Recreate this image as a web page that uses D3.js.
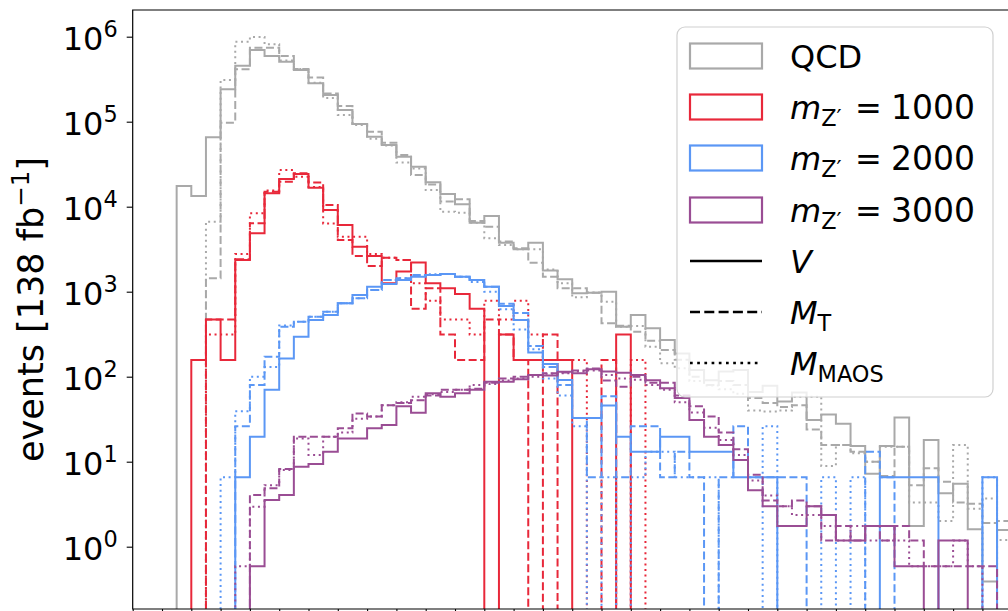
<!DOCTYPE html>
<html>
<head>
<meta charset="utf-8">
<script src="https://cdn.jsdelivr.net/npm/d3@7"></script>
<style>
  body { margin: 0; background: #fff; }
  text { font-family: "DejaVu Sans", sans-serif; }
</style>
</head>
<body>
<div id="canvas"></div>
<script>
// bins: equal-width bins, counts per bin (events / 138 fb^-1)
var nBins = 62;

var qcdV = [0,0,0,17500,13400,65500,240000,456000,698000,593000,
  508000,406000,283000,206000,137000,94000,66700,53200,38700,29600,
  19400,14100,10700,6490,7780,3770,3150,3770,1770,1400,
  957,973,1000,387,532,371,270,188,120,91,
  115,120,66,78,51,65,31,36,28,15.3,
  7.2,15.3,33,1.75,18,4.25,5.5,1.6,0.39,1.57];
var qcdMT = [0,0,0,0,0,1440,97300,413000,741000,741000,
  593000,417000,330000,214000,153000,94000,76200,56600,40600,23600,
  18200,11500,12200,6800,5820,3890,3240,2190,1500,1100,
  1100,973,425,398,339,265,206,158,100,80,
  89,80,56,49,44,46,24,15.7,15.7,13.1,
  10,6.8,15,5.3,8.4,5.8,3.3,3.2,1.9,2];
var qcdMAOS = [0,0,0,0,0,6670,309000,873000,995000,813000,
  525000,417000,288000,190000,120000,91200,63100,52500,33000,28200,
  15700,8730,8500,6460,4250,3550,3150,3150,1820,1256,
  859,977,762,387,394,225,144,126,89,79,
  71,63,40,39,40,58,58,8.9,15.7,12.6,
  10,15,15,3.3,3.3,2.0,15.7,2.8,3.7,1.2];

var z1000V = [0,0,0,0,157,471,157,2360,4860,14400,
  21200,24300,16700,9140,6090,3380,2630,1256,1727,2198,
  1256,1099,942,628,0,314,157,157,157,157,
  0,0,0,314,0,0,0,0,0,0,
  0,0,0,0,0,0,0,0,0,0,
  0,0,0,0,0,0,0,0,0,0];
var z1000MT = [0,0,0,0,0,471,471,2400,6370,15000,
  19700,24700,19200,10500,4060,2630,2000,2512,2355,628,
  1099,314,157,157,471,314,157,0,314,0,
  0,0,157,0,0,0,0,0,0,0,
  0,0,0,0,0,0,0,0,0,0,
  0,0,0,0,0,0,0,0,0,0];
var z1000MAOS = [0,0,0,0,0,314,314,2770,8360,15500,
  27000,22500,17000,6350,4440,4440,2770,2512,2355,1256,
  785,471,471,314,785,471,785,314,157,157,
  157,0,0,0,157,0,0,0,0,0,
  0,0,0,0,0,0,0,0,0,0,
  0,0,0,0,0,0,0,0,0,0];

var z2000V = [0,0,0,0,0,0,0,6.55,19.7,70,
  164,296,464,532,731,915,1146,1233,1373,1500,
  1571,1616,1500,1373,1146,679,464,192,141,91.5,
  32.7,32.7,45.8,19.6,13.1,13.1,19.6,19.6,13.1,13.1,
  13.1,6.55,6.55,6.55,0,0,0,0,0,0,
  0,6.55,6.55,6.55,6.55,0,0,0,6.55,0];
var z2000MT = [0,0,0,0,0,0,0,26.2,80,172,
  387,444,508,582,731,836,1047,1373,1438,1571,
  1571,1616,1500,1373,1146,720,560,230,130,80,
  32.7,6.55,58.9,6.55,26.2,26.2,6.55,13.1,6.55,0,
  6.55,26.2,6.55,6.55,6.55,6.55,0,0,0,0,
  13.1,6.55,0,0,0,0,0,0,0,0];
var z2000MAOS = [0,0,0,0,0,0,6.55,39.3,100,130,
  400,444,508,582,731,836,1047,1373,1438,1571,
  1600,1616,1500,1300,1000,620,360,210,95,60,
  26.2,0,6.55,0,6.55,13.1,13.1,6.55,6.55,6.55,
  0,0,0,26.2,0,0,0,6.55,0,6.55,
  0,0,0,0,0,0,0,0,6.55,0];

var z3000V = [0,0,0,0,0,0,0,0,0.59,3.54,
  4.06,8.7,9.4,13.1,18.8,18.8,24.7,27,45,37.7,
  63.8,58,64,70,87,87,93,105,103,114,
  110,122,115,111,105,91,73,56,31,19.7,
  15.7,10.5,4.6,3,1.75,1.75,3,2.36,1.18,1.18,
  1.75,1.75,0.59,0.59,0,1.18,1.18,0,0,0];
var z3000MT = [0,0,0,0,0,0,0,0,4.06,4.87,
  8.2,19.7,19.7,19.7,24.7,37,34,46,49,53,
  60,70,70,72,85,95,100,105,110,112,
  118,125,90,76,100,85,85,60,45,34,
  22,14,7,3.5,3,3.5,3,1.18,1.75,1.18,
  1.75,1.18,1.75,1.18,0.59,0.59,0.59,0.59,0.59,0];
var z3000MAOS = [0,0,0,0,0,0,0,0.59,2.96,5.3,
  8,18.8,12,19.7,22,32,34,46,50,58,
  62,66,70,80,82,90,95,100,108,110,
  115,118,105,95,92,80,70,50,38,25,
  18,12,6,4,3,2.36,2.36,1.75,1.18,1.75,
  1.18,1.18,1.18,0.59,0.59,0.59,1.18,0.59,0,0];

var samples = ['QCD', 'm1000', 'm2000', 'm3000'];
var colors = { QCD: '#a9a9a9', m1000: '#e8283a', m2000: '#5b97f5', m3000: '#9a4d94' };
var variables = ['V', 'MT', 'MAOS'];
var dashes = { V: null, MT: '8,3.5', MAOS: '2,3.6' };
var yTicks = [1, 10, 100, 1e3, 1e4, 1e5, 1e6];
var yMin = Math.pow(10, -0.733), yMax = Math.pow(10, 6.314);

var hists = [
  { s: 'QCD', v: 'V', d: qcdV }, { s: 'QCD', v: 'MT', d: qcdMT }, { s: 'QCD', v: 'MAOS', d: qcdMAOS },
  { s: 'm1000', v: 'V', d: z1000V }, { s: 'm1000', v: 'MT', d: z1000MT }, { s: 'm1000', v: 'MAOS', d: z1000MAOS },
  { s: 'm2000', v: 'V', d: z2000V }, { s: 'm2000', v: 'MT', d: z2000MT }, { s: 'm2000', v: 'MAOS', d: z2000MAOS },
  { s: 'm3000', v: 'V', d: z3000V }, { s: 'm3000', v: 'MT', d: z3000MT }, { s: 'm3000', v: 'MAOS', d: z3000MAOS }
];

// margin convention
var m = { t: 10, l: 132.7 },
    w = nBins * 14.65,
    h = 599;

var svg = d3.select('#canvas').append('svg')
    .attr('width', 1008)
    .attr('height', 611);

var plot = svg.append('g')
    .attr('transform', 'translate(' + m.l + ',' + m.t + ')');

var scaleX = d3.scaleLinear().domain([0, nBins]).range([0, w]);
var scaleY = d3.scaleLog().domain([yMin, yMax]).range([h, 0]);

plot.append('clipPath').attr('id', 'clip')
  .append('rect').attr('width', w).attr('height', h);

function stepPath(vals) {
  var yy = function(v) { return v > 0 ? scaleY(v) : h + 30; };
  var pts = [[scaleX(0), h + 30]];
  vals.forEach(function(v, i) {
    pts.push([scaleX(i), yy(v)]);
    pts.push([scaleX(i + 1), yy(v)]);
  });
  pts.push([scaleX(vals.length), h + 30]);
  return d3.line()(pts);
}

plot.append('g').attr('clip-path', 'url(#clip)')
  .selectAll('path').data(hists).enter()
  .append('path')
    .attr('d', function(d) { return stepPath(d.d); })
    .attr('fill', 'none')
    .attr('stroke', function(d) { return colors[d.s]; })
    .attr('stroke-width', 2)
    .attr('stroke-dasharray', function(d) { return dashes[d.v]; });

// axes
var xAxis = d3.axisBottom(scaleX).tickValues(d3.range(0, nBins + 1, 2)).tickSize(6).tickFormat('');
var yAxis = d3.axisLeft(scaleY).tickValues(yTicks).tickSize(6).tickFormat('');

plot.append('g').attr('transform', 'translate(0,' + h + ')').call(xAxis)
  .call(function(g) { g.select('.domain').remove(); g.selectAll('line').attr('stroke-width', 1.1); });
plot.append('g').call(yAxis)
  .call(function(g) { g.select('.domain').remove(); g.selectAll('line').attr('stroke-width', 1.1); });

// spines
plot.append('path')
  .attr('d', 'M' + w + ',0H0V' + h + 'H' + w)
  .attr('fill', 'none').attr('stroke', '#000').attr('stroke-width', 1.2);

// y tick labels 10^n
var yl = plot.append('g').selectAll('text').data(yTicks).enter()
  .append('text')
    .attr('x', -15)
    .attr('y', function(d) { return scaleY(d) + 13.3; })
    .attr('text-anchor', 'end')
    .attr('font-size', 32);
yl.append('tspan').text('10');
yl.append('tspan').attr('font-size', 22.4).attr('dy', -12.7)
  .text(function(d) { return Math.round(Math.log10(d)); });

// y label
var ylab = svg.append('text')
  .attr('transform', 'translate(43,' + (m.t + h / 2) + ') rotate(-90)')
  .attr('text-anchor', 'middle')
  .attr('font-size', 35);
ylab.append('tspan').text('events [138 fb');
ylab.append('tspan').attr('font-size', 24.5).attr('dy', -14).text('\u22121');
ylab.append('tspan').attr('dy', 14).text(']');

// legend
var lg = svg.append('g');
lg.append('rect')
  .attr('x', 677).attr('y', 27).attr('width', 316).attr('height', 370)
  .attr('rx', 8).attr('fill', '#fff').attr('fill-opacity', 0.8)
  .attr('stroke', '#d0d0d0').attr('stroke-width', 1.2);

var rowY = [56, 107, 158, 210, 261, 312, 363];
samples.forEach(function(s, i) {
  lg.append('rect')
    .attr('x', 690).attr('y', rowY[i] - 12.5).attr('width', 72).attr('height', 25)
    .attr('fill', 'none').attr('stroke', colors[s]).attr('stroke-width', 2.2);
});
variables.forEach(function(v, i) {
  lg.append('line')
    .attr('x1', 690).attr('x2', 762)
    .attr('y1', rowY[4 + i]).attr('y2', rowY[4 + i])
    .attr('stroke', '#000').attr('stroke-width', 2.7)
    .attr('stroke-dasharray', v === 'MT' ? '10,4.3' : v === 'MAOS' ? '2.7,4.5' : null);
});

var tx = 790;
lg.append('text').attr('x', tx).attr('y', rowY[0] + 12).attr('font-size', 32).text('QCD');
['1000', '2000', '3000'].forEach(function(mass, i) {
  var t = lg.append('text').attr('x', tx).attr('y', rowY[1 + i] + 12).attr('font-size', 32);
  t.append('tspan').attr('font-style', 'italic').text('m');
  t.append('tspan').attr('font-size', 22.4).attr('dy', 6.5).text('Z\u2032');
  t.append('tspan').attr('x', 855).attr('dy', -6.5).text('=');
  t.append('tspan').attr('x', 891).attr('font-size', 33).text(mass);
});
var tV = lg.append('text').attr('x', tx).attr('y', rowY[4] + 12).attr('font-size', 32);
tV.append('tspan').attr('font-style', 'italic').text('V');
var tT = lg.append('text').attr('x', tx).attr('y', rowY[5] + 12).attr('font-size', 32);
tT.append('tspan').attr('font-style', 'italic').text('M');
tT.append('tspan').attr('font-size', 22.4).attr('dy', 6.5).text('T');
var tM = lg.append('text').attr('x', tx).attr('y', rowY[6] + 12).attr('font-size', 32);
tM.append('tspan').attr('font-style', 'italic').text('M');
tM.append('tspan').attr('font-size', 22.4).attr('dy', 6.5).text('MAOS');
</script>
</body>
</html>
